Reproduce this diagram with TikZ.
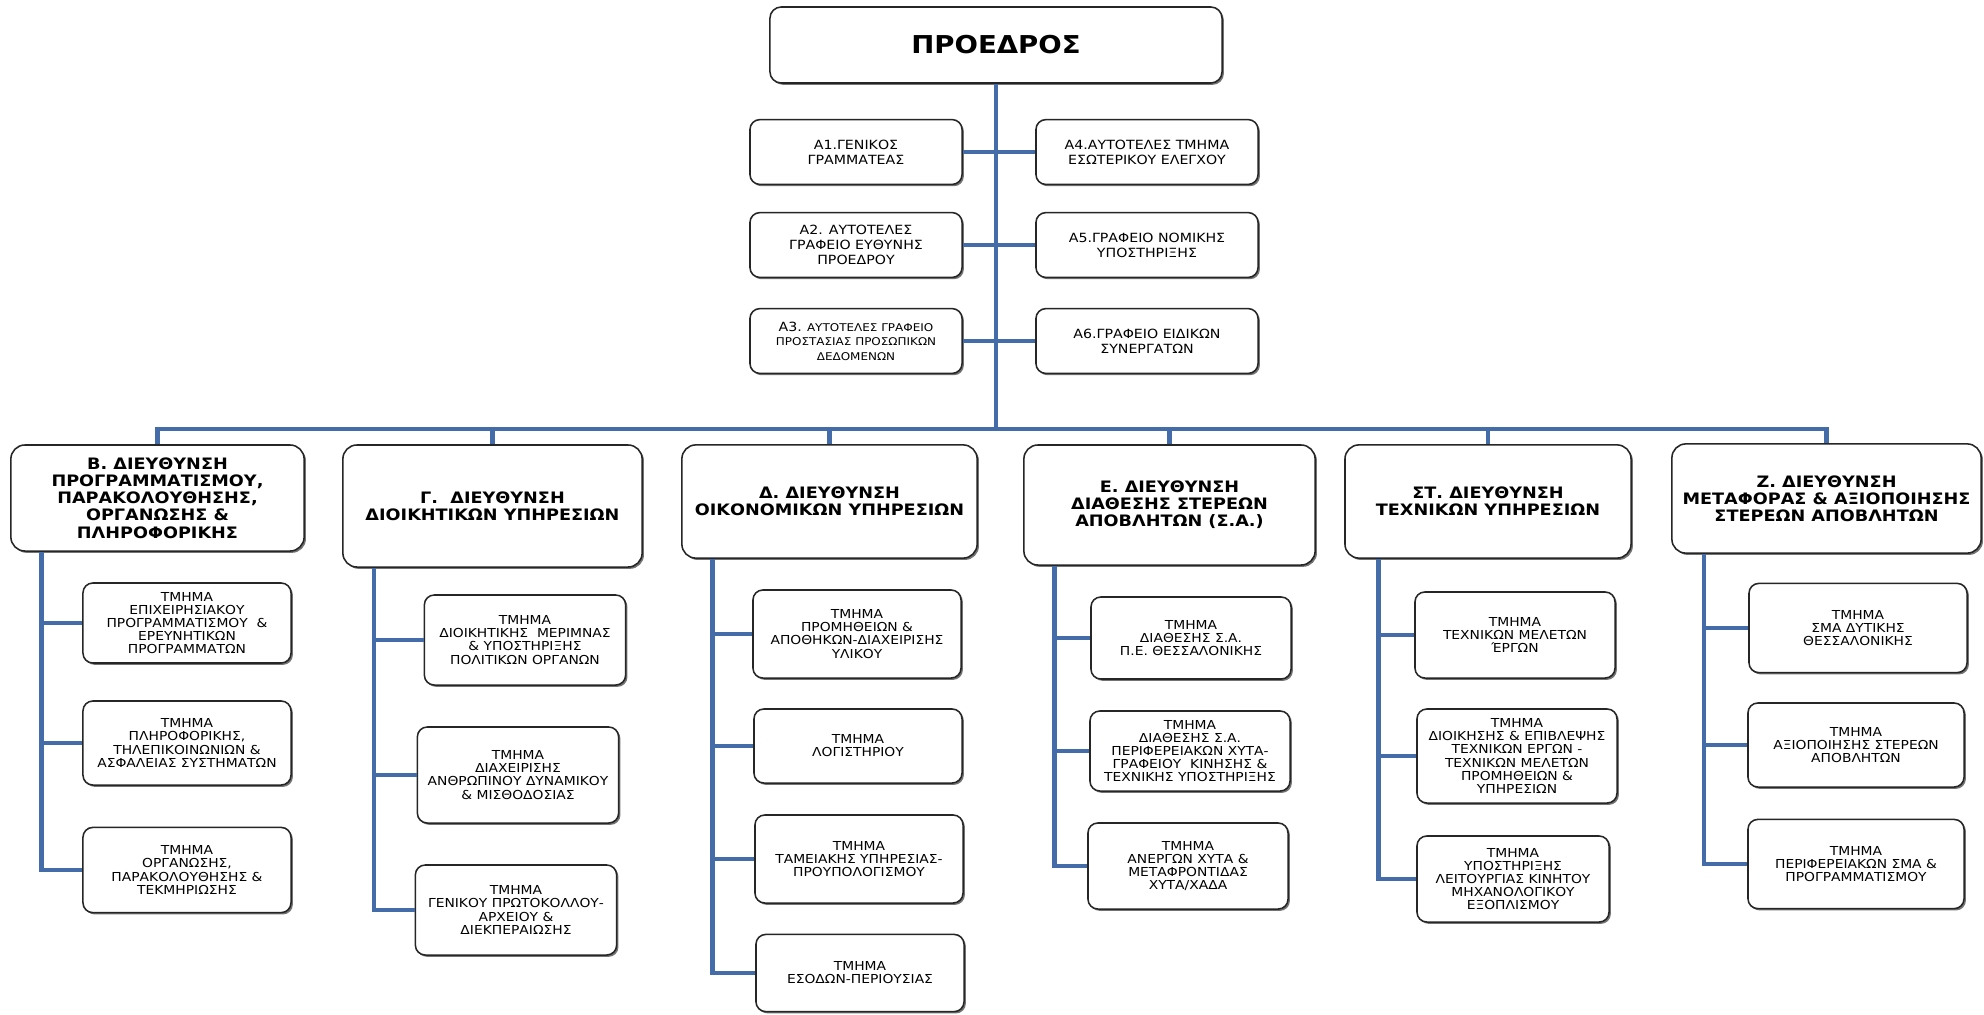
\documentclass[tikz,border=0pt]{standalone}
\usepackage{fontspec}
\setmainfont{DejaVu Sans}[FakeStretch=1.12]
\usetikzlibrary{arrows.meta, calc, shadows}
\definecolor{linkblue}{RGB}{68,108,168}

\begin{document}
\begin{tikzpicture}[>=Stealth, x=0.025cm, y=-0.025cm,
    box/.style={draw=black!85, line width=1.1pt, fill=white, rounded corners=7pt,
        align=center, inner sep=2pt,
        drop shadow={shadow xshift=1.3pt, shadow yshift=-1.3pt, fill=black!55, opacity=1}},
    topbox/.style={box, rounded corners=8pt, font=\bfseries\fontsize{17.5}{20}\selectfont},
    abox/.style={box, minimum height=1.62cm, font=\fontsize{9}{10.8}\selectfont},
    headbox/.style={box, rounded corners=10pt, font=\bfseries\fontsize{11.2}{12.2}\selectfont},
    subbox/.style={box, font=\fontsize{8.8}{9.3}\selectfont},
    link/.style={draw=linkblue, line width=3.3pt}]

% page and background
\fill[white] (0,0) rectangle (1984,1014);
\useasboundingbox (0,0) rectangle (1984,1014);

% President
\node[topbox, minimum width=11.3cm, minimum height=1.9cm] (pres) at (996,45) {ΠΡΟΕΔΡΟΣ};

% Staff units beside the trunk
\node[abox, minimum width=5.3cm] (a1) at (856,152) {Α1.ΓΕΝΙΚΟΣ\\ΓΡΑΜΜΑΤΕΑΣ};
\node[abox, minimum width=5.3cm] (a2) at (856,245) {Α2. ΑΥΤΟΤΕΛΕΣ\\ΓΡΑΦΕΙΟ ΕΥΘΥΝΗΣ\\ΠΡΟΕΔΡΟΥ};
\node[abox, minimum width=5.3cm, font=\fontsize{7.6}{10.4}\selectfont] (a3) at (856,341)
    {{\fontsize{9}{10.4}\selectfont Α3.} ΑΥΤΟΤΕΛΕΣ ΓΡΑΦΕΙΟ\\ΠΡΟΣΤΑΣΙΑΣ ΠΡΟΣΩΠΙΚΩΝ\\ΔΕΔΟΜΕΝΩΝ};
\node[abox, minimum width=5.55cm] (a4) at (1147,152) {Α4.ΑΥΤΟΤΕΛΕΣ ΤΜΗΜΑ\\ΕΣΩΤΕΡΙΚΟΥ ΕΛΕΓΧΟΥ};
\node[abox, minimum width=5.55cm] (a5) at (1147,245) {Α5.ΓΡΑΦΕΙΟ ΝΟΜΙΚΗΣ\\ΥΠΟΣΤΗΡΙΞΗΣ};
\node[abox, minimum width=5.55cm] (a6) at (1147,341) {Α6.ΓΡΑΦΕΙΟ ΕΙΔΙΚΩΝ\\ΣΥΝΕΡΓΑΤΩΝ};

% Directorates
\node[headbox, minimum width=7.33cm, minimum height=2.65cm] (dirB) at (157.5,498)
    {Β. ΔΙΕΥΘΥΝΣΗ\\ΠΡΟΓΡΑΜΜΑΤΙΣΜΟΥ,\\ΠΑΡΑΚΟΛΟΥΘΗΣΗΣ,\\ΟΡΓΑΝΩΣΗΣ \&\\ΠΛΗΡΟΦΟΡΙΚΗΣ};
\node[headbox, minimum width=7.48cm, minimum height=3.05cm] (dirG) at (492.5,506)
    {Γ. \ ΔΙΕΥΘΥΝΣΗ\\ΔΙΟΙΚΗΤΙΚΩΝ ΥΠΗΡΕΣΙΩΝ};
\node[headbox, minimum width=7.38cm, minimum height=2.83cm] (dirD) at (829.5,501.5)
    {Δ. ΔΙΕΥΘΥΝΣΗ\\ΟΙΚΟΝΟΜΙΚΩΝ ΥΠΗΡΕΣΙΩΝ};
\node[headbox, minimum width=7.28cm, minimum height=3cm] (dirE) at (1169.5,505)
    {Ε. ΔΙΕΥΘΥΝΣΗ\\ΔΙΑΘΕΣΗΣ ΣΤΕΡΕΩΝ\\ΑΠΟΒΛΗΤΩΝ (Σ.Α.)};
\node[headbox, minimum width=7.15cm, minimum height=2.83cm] (dirST) at (1488,501.5)
    {ΣΤ. ΔΙΕΥΘΥΝΣΗ\\ΤΕΧΝΙΚΩΝ ΥΠΗΡΕΣΙΩΝ};
\node[headbox, minimum width=7.73cm, minimum height=2.73cm] (dirZ) at (1826.5,498.5)
    {Ζ. ΔΙΕΥΘΥΝΣΗ\\ΜΕΤΑΦΟΡΑΣ \& ΑΞΙΟΠΟΙΗΣΗΣ\\ΣΤΕΡΕΩΝ ΑΠΟΒΛΗΤΩΝ};

% Departments of B
\node[subbox, minimum width=5.2cm, minimum height=2cm] (b1) at (187,623)
    {ΤΜΗΜΑ\\ΕΠΙΧΕΙΡΗΣΙΑΚΟΥ\\ΠΡΟΓΡΑΜΜΑΤΙΣΜΟΥ \ \&\\ΕΡΕΥΝΗΤΙΚΩΝ\\ΠΡΟΓΡΑΜΜΑΤΩΝ};
\node[subbox, minimum width=5.2cm, minimum height=2.1cm] (b2) at (187,743)
    {ΤΜΗΜΑ\\ΠΛΗΡΟΦΟΡΙΚΗΣ,\\ΤΗΛΕΠΙΚΟΙΝΩΝΙΩΝ \&\\ΑΣΦΑΛΕΙΑΣ ΣΥΣΤΗΜΑΤΩΝ};
\node[subbox, minimum width=5.2cm, minimum height=2.13cm] (b3) at (187,870)
    {ΤΜΗΜΑ\\ΟΡΓΑΝΩΣΗΣ,\\ΠΑΡΑΚΟΛΟΥΘΗΣΗΣ \&\\ΤΕΚΜΗΡΙΩΣΗΣ};

% Departments of G
\node[subbox, minimum width=5.03cm, minimum height=2.25cm] (g1) at (525,640)
    {ΤΜΗΜΑ\\ΔΙΟΙΚΗΤΙΚΗΣ \ ΜΕΡΙΜΝΑΣ\\\& ΥΠΟΣΤΗΡΙΞΗΣ\\ΠΟΛΙΤΙΚΩΝ ΟΡΓΑΝΩΝ};
\node[subbox, minimum width=5.03cm, minimum height=2.4cm] (g2) at (518,775)
    {ΤΜΗΜΑ\\ΔΙΑΧΕΙΡΙΣΗΣ\\ΑΝΘΡΩΠΙΝΟΥ ΔΥΝΑΜΙΚΟΥ\\\& ΜΙΣΘΟΔΟΣΙΑΣ};
\node[subbox, minimum width=5.03cm, minimum height=2.25cm] (g3) at (516,910)
    {ΤΜΗΜΑ\\ΓΕΝΙΚΟΥ ΠΡΩΤΟΚΟΛΛΟΥ-\\ΑΡΧΕΙΟΥ \&\\ΔΙΕΚΠΕΡΑΙΩΣΗΣ};

% Departments of D
\node[subbox, minimum width=5.2cm, minimum height=2.2cm] (d1) at (857,634)
    {ΤΜΗΜΑ\\ΠΡΟΜΗΘΕΙΩΝ \&\\ΑΠΟΘΗΚΩΝ-ΔΙΑΧΕΙΡΙΣΗΣ\\ΥΛΙΚΟΥ};
\node[subbox, minimum width=5.2cm, minimum height=1.85cm] (d2) at (858,746)
    {ΤΜΗΜΑ\\ΛΟΓΙΣΤΗΡΙΟΥ};
\node[subbox, minimum width=5.2cm, minimum height=2.2cm] (d3) at (859,859)
    {ΤΜΗΜΑ\\ΤΑΜΕΙΑΚΗΣ ΥΠΗΡΕΣΙΑΣ-\\ΠΡΟΥΠΟΛΟΓΙΣΜΟΥ};
\node[subbox, minimum width=5.2cm, minimum height=1.93cm] (d4) at (860,973)
    {ΤΜΗΜΑ\\ΕΣΟΔΩΝ-ΠΕΡΙΟΥΣΙΑΣ};

% Departments of E
\node[subbox, minimum width=5cm, minimum height=2.05cm] (e1) at (1191,638)
    {ΤΜΗΜΑ\\ΔΙΑΘΕΣΗΣ Σ.Α.\\Π.Ε. ΘΕΣΣΑΛΟΝΙΚΗΣ};
\node[subbox, minimum width=5cm, minimum height=2cm] (e2) at (1190,751)
    {ΤΜΗΜΑ\\ΔΙΑΘΕΣΗΣ Σ.Α.\\ΠΕΡΙΦΕΡΕΙΑΚΩΝ ΧΥΤΑ-\\ΓΡΑΦΕΙΟΥ \ ΚΙΝΗΣΗΣ \&\\ΤΕΧΝΙΚΗΣ ΥΠΟΣΤΗΡΙΞΗΣ};
\node[subbox, minimum width=5cm, minimum height=2.15cm] (e3) at (1188,866)
    {ΤΜΗΜΑ\\ΑΝΕΡΓΩΝ ΧΥΤΑ \&\\ΜΕΤΑΦΡΟΝΤΙΔΑΣ\\ΧΥΤΑ/ΧΑΔΑ};

% Departments of ST
\node[subbox, minimum width=5cm, minimum height=2.15cm] (st1) at (1515,635)
    {ΤΜΗΜΑ\\ΤΕΧΝΙΚΩΝ ΜΕΛΕΤΩΝ\\ΈΡΓΩΝ};
\node[subbox, minimum width=5cm, minimum height=2.35cm] (st2) at (1517,756)
    {ΤΜΗΜΑ\\ΔΙΟΙΚΗΣΗΣ \& ΕΠΙΒΛΕΨΗΣ\\ΤΕΧΝΙΚΩΝ ΕΡΓΩΝ -\\ΤΕΧΝΙΚΩΝ ΜΕΛΕΤΩΝ\\ΠΡΟΜΗΘΕΙΩΝ \&\\ΥΠΗΡΕΣΙΩΝ};
\node[subbox, minimum width=4.8cm, minimum height=2.15cm] (st3) at (1513,879)
    {ΤΜΗΜΑ\\ΥΠΟΣΤΗΡΙΞΗΣ\\ΛΕΙΤΟΥΡΓΙΑΣ ΚΙΝΗΤΟΥ\\ΜΗΧΑΝΟΛΟΓΙΚΟΥ\\ΕΞΟΠΛΙΣΜΟΥ};

% Departments of Z
\node[subbox, minimum width=5.45cm, minimum height=2.23cm] (z1) at (1858,628)
    {ΤΜΗΜΑ\\ΣΜΑ ΔΥΤΙΚΗΣ\\ΘΕΣΣΑΛΟΝΙΚΗΣ};
\node[subbox, minimum width=5.4cm, minimum height=2.1cm] (z2) at (1856,745)
    {ΤΜΗΜΑ\\ΑΞΙΟΠΟΙΗΣΗΣ ΣΤΕΡΕΩΝ\\ΑΠΟΒΛΗΤΩΝ};
\node[subbox, minimum width=5.4cm, minimum height=2.23cm] (z3) at (1856,864)
    {ΤΜΗΜΑ\\ΠΕΡΙΦΕΡΕΙΑΚΩΝ ΣΜΑ \&\\ΠΡΟΓΡΑΜΜΑΤΙΣΜΟΥ};

% Trunk and bus
\coordinate (bus) at (996,429);
\draw[link] (pres.south) -- (pres.south |- bus);
\foreach \n in {a1,a2,a3} {
    \draw[link] (\n.east) -- (\n.east -| pres.south);
}
\foreach \n in {a4,a5,a6} {
    \draw[link] (\n.west) -- (\n.west -| pres.south);
}
\draw[link] (dirB.north) |- (bus) -| (dirZ.north);
\foreach \d in {dirG,dirD,dirE,dirST} {
    \draw[link] (\d.north) -- (\d.north |- bus);
}

% Spines under each directorate
\coordinate (sB) at ([xshift=0.78cm]dirB.south west);
\coordinate (sG) at ([xshift=0.8cm]dirG.south west);
\coordinate (sD) at ([xshift=0.78cm]dirD.south west);
\coordinate (sE) at ([xshift=0.78cm]dirE.south west);
\coordinate (sST) at ([xshift=0.85cm]dirST.south west);
\coordinate (sZ) at ([xshift=0.82cm]dirZ.south west);

\draw[link] (sB) |- (b3.west);
\draw[link] (sG) |- (g3.west);
\draw[link] (sD) |- (d4.west);
\draw[link] (sE) |- (e3.west);
\draw[link] (sST) |- (st3.west);
\draw[link] (sZ) |- (z3.west);

\foreach \n/\s in {b1/sB,b2/sB,g1/sG,g2/sG,d1/sD,d2/sD,d3/sD,e1/sE,e2/sE,st1/sST,st2/sST,z1/sZ,z2/sZ} {
    \draw[link] (\n.west -| \s) -- (\n.west);
}

\end{tikzpicture}
\end{document}
